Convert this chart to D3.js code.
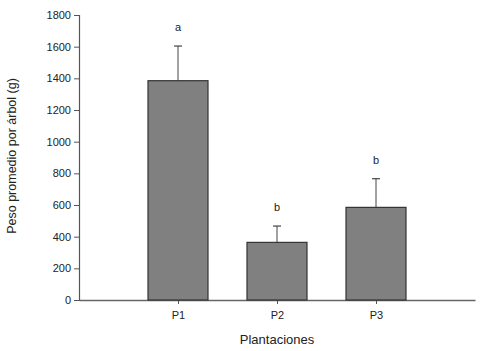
<!DOCTYPE html>
<html><head><meta charset="utf-8">
<script src="https://cdn.jsdelivr.net/npm/d3@7"></script>
<style>body{margin:0;background:#fff}svg{display:block}text{font-family:"Liberation Sans",Arial,sans-serif;fill:#222}</style>
</head><body><svg id="c" width="492" height="351"></svg>
<script>
const categories = ["P1","P2","P3"];
const means = [1385, 364, 585];
const errors = [219, 103, 181];
const letters = ["a","b","b"];
const yTicks = [0,200,400,600,800,1000,1200,1400,1600,1800];

(function(){
const svg = d3.select("#c");
const mL = 79, mR = 475, mT = 15, mB = 300;
const x = d3.scaleLinear().domain([0, categories.length + 1]).range([mL, mR]);
const y = d3.scaleLinear().domain([0, 1800]).range([mB, mT]);
const bw = 60;

// Y axis
const ya = svg.append("g").attr("transform", `translate(${mL},0)`)
  .call(d3.axisLeft(y).tickValues(yTicks).tickSize(5).tickPadding(3).tickFormat(d3.format("d")));
ya.select(".domain").attr("stroke", "#555").attr("stroke-width", 1.2);
ya.selectAll(".tick line").attr("stroke", "#555");
ya.selectAll(".tick text").style("font-size", "11px").attr("fill", "#222");

// X axis
const xa = svg.append("g").attr("transform", `translate(0,${mB})`)
  .call(d3.axisBottom(x).tickValues(categories.map((c,i)=>i+1)).tickSize(4).tickPadding(7).tickFormat((d)=>categories[d-1]).tickSizeOuter(0));
xa.select(".domain").attr("stroke", "#666").attr("stroke-width", 1.5);
xa.selectAll(".tick line").attr("stroke", "#555");
xa.selectAll(".tick text").style("font-size", "11px").attr("fill", "#222");

// error bars
const eb = svg.append("g");
categories.forEach((c,i)=>{
  const cx = x(i+1);
  eb.append("line").attr("x1",cx).attr("x2",cx).attr("y1",y(means[i])).attr("y2",y(means[i]+errors[i])).attr("stroke","#444").attr("stroke-width",1);
  eb.append("line").attr("x1",cx-4).attr("x2",cx+4).attr("y1",y(means[i]+errors[i])).attr("y2",y(means[i]+errors[i])).attr("stroke","#444").attr("stroke-width",1.2);
});

// bars
svg.append("g").selectAll("rect").data(means).join("rect")
  .attr("x",(d,i)=>x(i+1)-bw/2).attr("width",bw)
  .attr("y",d=>y(d)).attr("height",d=>mB-y(d))
  .attr("fill","#808080").attr("stroke","#333").attr("stroke-width",1.2);

// letters
svg.append("g").selectAll("text").data(letters).join("text")
  .attr("x",(d,i)=>x(i+1)).attr("y",(d,i)=>y(means[i]+errors[i])-15)
  .attr("text-anchor","middle").style("font-size","11px").text(d=>d);

// axis titles
svg.append("text").attr("x",277).attr("y",344).attr("text-anchor","middle").style("font-size","13px").text("Plantaciones");
svg.append("text").attr("transform",`translate(16,156) rotate(-90)`).attr("text-anchor","middle").style("font-size","12.5px").text("Peso promedio por árbol (g)");
})();
</script></body></html>
